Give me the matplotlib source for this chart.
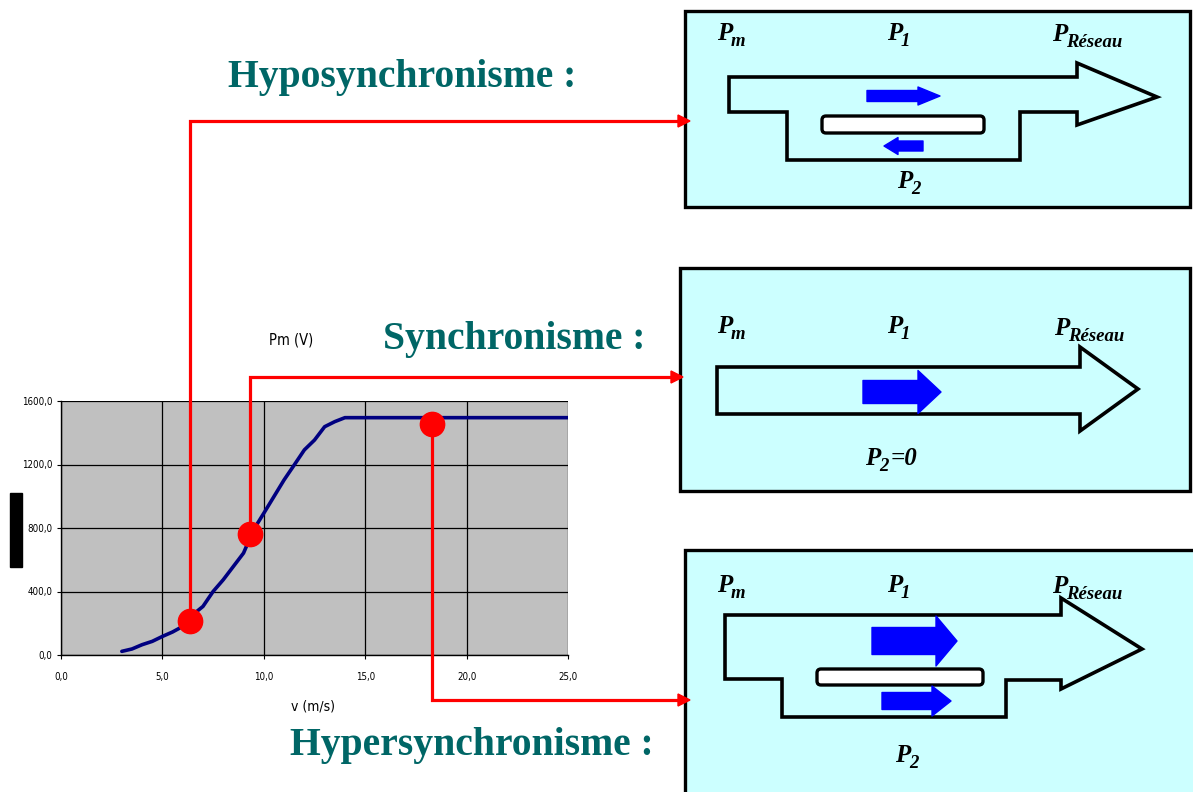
import numpy as np
import matplotlib.pyplot as plt
from matplotlib.patches import Polygon, Rectangle, FancyBboxPatch

W, H = 1193, 792

# courbe de puissance de l'éolienne
vitesse = [3.0, 3.5, 4.0, 4.5, 5.0, 5.5, 6.0, 6.5, 7.0, 7.5, 8.0, 8.5, 9.0,
           9.5, 10.0, 10.5, 11.0, 11.5, 12.0, 12.5, 13.0, 13.5, 14.0, 15.0,
           20.0, 25.0]
puissance = [23, 38, 65, 86, 117, 145, 180, 254, 306, 400, 474, 558, 642,
             790, 893, 998, 1103, 1197, 1292, 1354, 1438, 1470, 1495, 1495,
             1495, 1495]

# points de fonctionnement (hypo, synchro, hyper)
v_points = [6.35, 9.3, 18.3]
p_points = [212, 763, 1455]

x_ticks = [0, 5, 10, 15, 20, 25]
x_labels = ['0,0', '5,0', '10,0', '15,0', '20,0', '25,0']
y_ticks = [0, 400, 800, 1200, 1600]
y_labels = ['0,0', '400,0', '800,0', '1200,0', '1600,0']

titres = ['Hyposynchronisme :', 'Synchronisme :', 'Hypersynchronisme :']

sans = 'DejaVu Sans'
serif = 'Liberation Serif'
teal = '#006666'
cyan = '#CCFFFF'
bleu = '#0000FF'
rouge = '#FF0000'

fig = plt.figure(figsize=(W / 100, H / 100), dpi=100)

# --- graphique ---
ax = fig.add_axes([61 / W, 1 - 655 / H, (568 - 61) / W, (655 - 401) / H])
ax.set_facecolor('#C0C0C0')
ax.plot(vitesse, puissance, color='#000080', lw=2.6, solid_capstyle='round')
ax.set_xlim(0, 25)
ax.set_ylim(0, 1600)
ax.set_xticks(x_ticks)
ax.set_xticklabels(x_labels, family=sans, stretch='condensed', fontsize=7)
ax.set_yticks(y_ticks)
ax.set_yticklabels(y_labels, family=sans, stretch='condensed', fontsize=7)
ax.grid(True, color='black', lw=0.9)
ax.set_axisbelow(True)
ax.tick_params(axis='x', length=3, width=0.8, pad=9)
ax.tick_params(axis='y', length=3, width=0.8, pad=3)
for s in ['top', 'right']:
    ax.spines[s].set_visible(False)
for s in ['left', 'bottom']:
    ax.spines[s].set_linewidth(1.0)

# --- calque de dessin en pixels ---
ov = fig.add_axes([0, 0, 1, 1])
ov.set_xlim(0, W)
ov.set_ylim(H, 0)
ov.axis('off')
ov.set_zorder(3)
ov.patch.set_alpha(0)

ov.text(291, 340, 'Pm (V)', family=sans, stretch='condensed', fontsize=10.5,
        ha='center', va='center')
ov.text(313, 706, 'v (m/s)', family=sans, stretch='condensed', fontsize=10,
        ha='center', va='center')
ov.add_patch(Rectangle((10, 493), 12, 74, color='black'))

# titres
ov.text(228, 78, titres[0], family=serif, weight='bold', fontsize=28.5,
        color=teal, va='center')
ov.text(383, 340, titres[1], family=serif, weight='bold', fontsize=28.5,
        color=teal, va='center')
ov.text(290, 746, titres[2], family=serif, weight='bold', fontsize=28.5,
        color=teal, va='center')

# boîtes
boites = [(685, 11, 505, 196), (680, 268, 510, 223), (685, 550, 540, 260)]
for (bx, by, bw, bh) in boites:
    ov.add_patch(Rectangle((bx, by), bw, bh, facecolor=cyan, edgecolor='black',
                           lw=2.4, joinstyle='miter'))


def etiquette(x, y, sub, tail=None, tail_x=None):
    ov.text(x, y, 'P', family=serif, weight='bold', style='italic',
            fontsize=18, va='baseline', ha='left')
    ov.text(x + 14, y + 6, sub, family=serif, weight='bold', style='italic',
            fontsize=13.5, va='baseline', ha='left')
    if tail:
        ov.text(tail_x, y, tail, family=serif, weight='bold', style='italic',
                fontsize=18, va='baseline', ha='left')


def contour(pts):
    ov.add_patch(Polygon(pts, closed=True, fill=False, edgecolor='black',
                         lw=2.6, joinstyle='miter'))


def fleche_bleue(x0, x1, yc, hb, xh, hh):
    # x0: arrière, x1: pointe, xh: base de la tête
    pts = [(x0, yc - hb / 2), (xh, yc - hb / 2), (xh, yc - hh / 2), (x1, yc),
           (xh, yc + hh / 2), (xh, yc + hb / 2), (x0, yc + hb / 2)]
    ov.add_patch(Polygon(pts, closed=True, facecolor=bleu, edgecolor=bleu,
                         lw=1, joinstyle='round'))


def barre(x0, y0, x1, y1):
    ov.add_patch(FancyBboxPatch((x0, y0), x1 - x0, y1 - y0,
                                boxstyle='round,pad=0,rounding_size=4',
                                facecolor='white', edgecolor='black', lw=2.4))


# boîte 1 : hyposynchronisme
etiquette(717, 40, 'm')
etiquette(887, 40, '1')
etiquette(1052, 41, 'Réseau')
contour([(729, 77), (1077, 77), (1077, 63), (1157, 97), (1077, 125),
         (1077, 112), (1020, 112), (1020, 160), (787, 160), (787, 112),
         (729, 112)])
barre(822, 116, 984, 133)
fleche_bleue(867, 940, 96, 11, 918, 18)
fleche_bleue(923, 884, 146, 10, 898, 17)
etiquette(897, 188, '2')

# boîte 2 : synchronisme
etiquette(717, 333, 'm')
etiquette(887, 333, '1')
etiquette(1054, 335, 'Réseau')
contour([(717, 367), (1080, 367), (1080, 347), (1138, 389), (1080, 431),
         (1080, 414), (717, 414)])
fleche_bleue(863, 941, 392, 23, 918, 43)
etiquette(865, 465, '2', tail='=0', tail_x=891)

# boîte 3 : hypersynchronisme
etiquette(717, 592, 'm')
etiquette(887, 592, '1')
etiquette(1052, 593, 'Réseau')
contour([(725, 615), (1061, 615), (1061, 598), (1142, 649), (1061, 689),
         (1061, 680), (1006, 680), (1006, 717), (782, 717), (782, 679),
         (725, 679)])
barre(817, 669, 983, 685)
fleche_bleue(872, 957, 641, 27, 936, 50)
fleche_bleue(882, 951, 701, 17, 932, 30)
etiquette(895, 762, '2')

# liaisons rouges entre points et boîtes
pix = ov.transData.inverted().transform(
    ax.transData.transform(np.column_stack([v_points, p_points])))
coudes = [121, 377, 700]
fins = [690, 683, 690]
for (mx, my), cy, ex in zip(pix, coudes, fins):
    ov.plot([mx, mx, ex - 10], [my, cy, cy], color=rouge, lw=2.3,
            solid_joinstyle='miter', zorder=4)
    ov.add_patch(Polygon([(ex - 12, cy - 6), (ex, cy), (ex - 12, cy + 6)],
                         closed=True, color=rouge, zorder=4))
    ov.plot(mx, my, 'o', color=rouge, ms=17.5, zorder=5)

fig.savefig('out.png', dpi=100)
